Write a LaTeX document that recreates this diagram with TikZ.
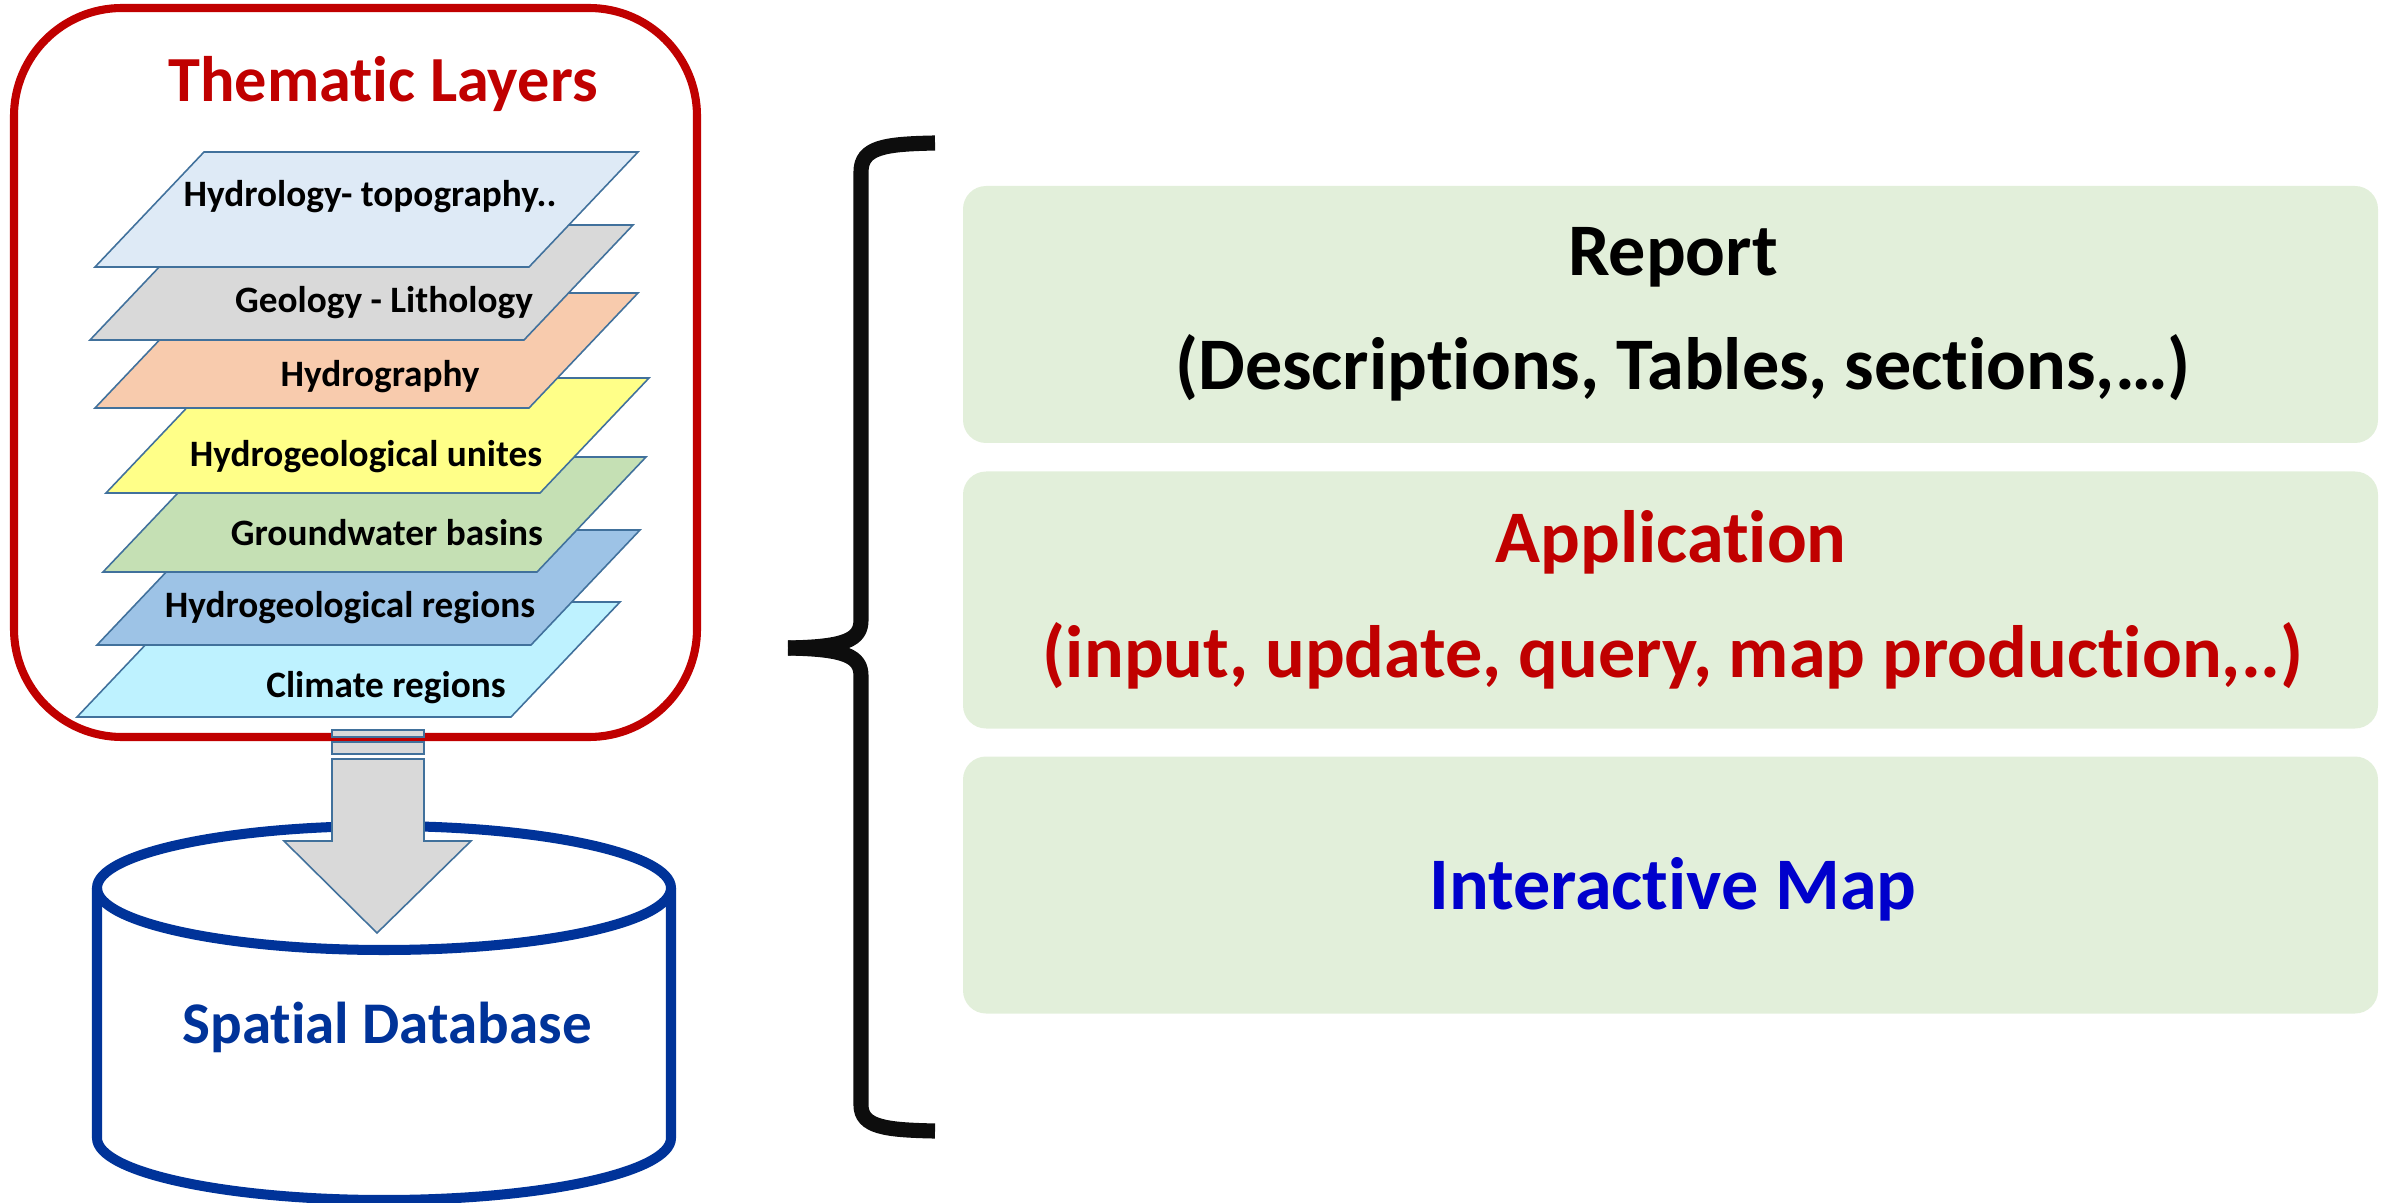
\documentclass[tikz,border=0pt]{standalone}
\usepackage{fontspec}
\setmainfont{Carlito}[Ligatures={NoCommon,NoContextual}]
\definecolor{redline}{RGB}{192,0,0}
\definecolor{layerline}{RGB}{65,113,156}
\definecolor{hydrology}{RGB}{222,234,246}
\definecolor{geology}{RGB}{217,217,217}
\definecolor{hydrography}{RGB}{248,203,173}
\definecolor{units}{RGB}{255,255,136}
\definecolor{basins}{RGB}{197,224,180}
\definecolor{regions}{RGB}{157,195,230}
\definecolor{climate}{RGB}{190,242,255}
\definecolor{dbblue}{RGB}{0,51,153}
\definecolor{mapblue}{RGB}{0,0,204}
\definecolor{boxgreen}{RGB}{226,239,218}
\definecolor{bracecol}{RGB}{13,13,13}

\begin{document}
\begin{tikzpicture}[x=0.1mm,y=-0.1mm]
\tikzstyle{every node}+=[inner sep=0pt]
\tikzstyle{layer}=[draw=layerline, line width=0.45pt]
\tikzstyle{lbl}=[anchor=base, font=\fontsize{10.6}{12}\selectfont\bfseries]
\tikzstyle{big}=[anchor=base, font=\fontsize{21.1}{24}\selectfont\bfseries]
\tikzstyle{greenbox}=[fill=boxgreen, rounded corners=0.23cm, minimum width=14.15cm, minimum height=2.57cm]
\tikzstyle{brace}=[bracecol, line width=4.3pt]
\useasboundingbox (0,0) rectangle (2382,1203);

\draw [redline, line width=2.3pt, rounded corners=1.08cm] (14,8) rectangle (697,737);
\node [anchor=base, font=\fontsize{18.3}{20}\selectfont\bfseries, text=redline] (title) at (383,102) {Thematic Layers};

\foreach \bx/\by/\col/\lx/\ly/\txt [count=\i] in {
  77/717/climate/386/697/Climate regions,
  97/645/regions/350/618/Hydrogeological regions,
  103/572/basins/387/545/Groundwater basins,
  106/493/units/366/467/Hydrogeological unites,
  95/408/hydrography/380/387/Hydrography,
  90/340/geology/384/313/Geology - Lithology,
  95/267/hydrology/370/207/Hydrology- topography..}
{
  \filldraw [layer, fill=\col] (\bx,\by) -- ++(434,0) -- ++(109,-115) -- ++(-434,0) -- cycle;
  \node [lbl] (lay\i) at (\lx,\ly) {\txt};
}

\filldraw [dbblue, fill=white, line width=2.85pt] (97,888) -- (97,1138) arc [start angle=180, end angle=360, x radius=2.87cm, y radius=0.62cm] -- (671,888);
\draw [dbblue, line width=2.85pt] (384,888) ellipse [x radius=2.87cm, y radius=0.62cm];
\node [anchor=base, font=\fontsize{16.8}{18}\selectfont\bfseries, text=dbblue] (db) at (387,1043) {Spatial Database};

\filldraw [layerline, fill=geology, line width=0.45pt] (332,730) rectangle (424,737);
\filldraw [layerline, fill=geology, line width=0.45pt] (332,742) rectangle (424,754);
\filldraw [layerline, fill=geology, line width=0.45pt] (332,759) -- (424,759) -- (424,841) -- (471,841) -- (377,933) -- (284,841) -- (332,841) -- cycle;

\draw [brace] (935,143) .. controls (885,144) and (861,147) .. (861,172) -- (861,620) .. controls (861,640) and (845,647) .. (788,648);
\draw [brace] (788,648) .. controls (845,649) and (861,656) .. (861,676) -- (861,1105) .. controls (861,1127) and (885,1130) .. (935,1131);

\node [greenbox] (report) at (1670.5,314.5) {};
\node [greenbox] (app) at (1670.5,600) {};
\node [greenbox] (map) at (1670.5,885) {};

\node [big] (reptitle) at (1673,276) {Report};
\node [big] (repsub) at (1683,390) {(Descriptions, Tables, sections,…)};
\node [big, text=redline] (apptitle) at (1671,563) {Application};
\node [big, text=redline] (appsub) at (1673,677) {(input, update, query, map production,..)};
\node [big, text=mapblue] (maptitle) at (1673,909) {Interactive Map};
\end{tikzpicture}
\end{document}
